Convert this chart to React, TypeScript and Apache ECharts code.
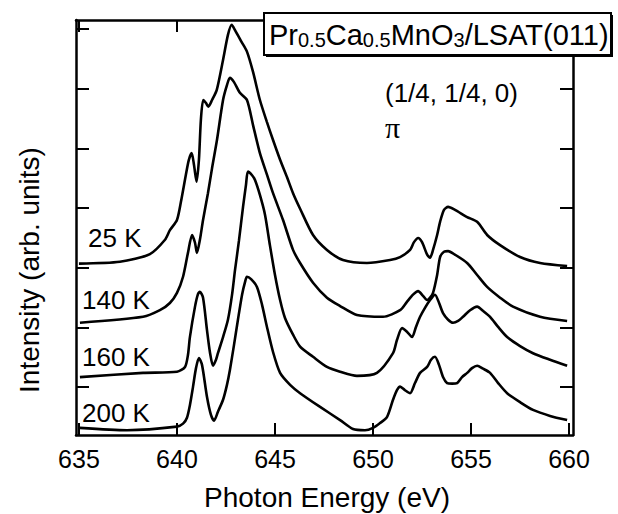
import React, { useEffect, useRef } from "react";
import * as echarts from "echarts";

const xTickValues = [635, 640, 645, 650, 655, 660];
const yTickValues = [1, 2, 3, 4, 5, 6, 7];

const energy25K = [635.0, 637.09, 638.62, 639.39, 639.64, 640.0, 640.2, 640.45, 640.6, 640.75, 640.87, 641.0, 641.12, 641.22, 641.34, 641.48, 641.6, 641.79, 642.03, 642.35, 642.6, 642.79, 642.96, 643.3, 643.57, 643.88, 644.23, 644.59, 644.9, 645.26, 645.61, 645.92, 646.28, 646.94, 647.65, 648.47, 649.69, 650.87, 651.38, 651.89, 652.09, 652.3, 652.5, 652.76, 652.91, 653.06, 653.27, 653.42, 653.62, 653.83, 654.18, 654.8, 655.31, 655.82, 656.48, 657.5, 658.52, 659.9];
const intensity25K = [3.07, 3.1, 3.23, 3.47, 3.63, 3.8, 4.1, 4.55, 4.8, 4.92, 4.72, 4.44, 4.81, 5.48, 5.81, 5.76, 5.7, 5.81, 5.98, 6.48, 6.9, 7.07, 6.98, 6.78, 6.62, 6.28, 5.81, 5.44, 5.14, 4.81, 4.52, 4.25, 3.99, 3.55, 3.3, 3.13, 3.08, 3.13, 3.18, 3.3, 3.43, 3.5, 3.43, 3.22, 3.17, 3.3, 3.55, 3.77, 3.97, 4.02, 3.97, 3.85, 3.77, 3.55, 3.38, 3.18, 3.08, 3.03];

const energy140K = [635.05, 638.27, 639.13, 639.64, 640.0, 640.31, 640.56, 640.77, 640.92, 641.02, 641.17, 641.33, 641.58, 641.79, 642.04, 642.35, 642.55, 642.7, 642.91, 643.21, 643.57, 643.88, 644.23, 644.59, 644.9, 645.41, 645.92, 646.28, 646.94, 647.65, 648.32, 649.18, 650.51, 651.38, 651.73, 652.04, 652.3, 652.55, 652.76, 652.91, 653.06, 653.27, 653.42, 653.62, 653.83, 654.18, 654.8, 655.31, 655.82, 656.48, 657.14, 658.52, 659.9];
const intensity140K = [2.08, 2.18, 2.29, 2.41, 2.58, 2.85, 3.25, 3.55, 3.42, 3.25, 3.47, 3.8, 4.25, 4.67, 5.14, 5.81, 6.06, 6.18, 6.11, 5.93, 5.81, 5.39, 4.92, 4.56, 4.25, 3.8, 3.3, 3.08, 2.75, 2.5, 2.36, 2.21, 2.18, 2.29, 2.43, 2.55, 2.61, 2.53, 2.46, 2.5, 2.58, 2.88, 3.18, 3.27, 3.28, 3.22, 3.08, 2.88, 2.68, 2.5, 2.35, 2.18, 2.11];

const energy160K = [635.05, 638.27, 640.0, 640.41, 640.56, 640.66, 640.92, 641.07, 641.17, 641.33, 641.53, 641.68, 641.84, 641.99, 642.09, 642.35, 642.6, 642.81, 642.96, 643.16, 643.37, 643.52, 643.62, 643.83, 643.98, 644.23, 644.49, 644.74, 645.0, 645.26, 645.51, 645.92, 646.28, 646.94, 647.65, 648.32, 649.18, 650.2, 651.02, 651.22, 651.48, 651.73, 651.99, 652.19, 652.4, 652.65, 652.91, 653.16, 653.37, 653.57, 653.83, 654.08, 654.34, 654.59, 654.95, 655.31, 655.61, 655.97, 656.38, 656.84, 657.5, 658.16, 659.03, 659.9];
const intensity160K = [1.17, 1.24, 1.26, 1.34, 1.54, 1.84, 2.35, 2.56, 2.6, 2.5, 1.96, 1.59, 1.36, 1.46, 1.57, 1.84, 2.13, 2.55, 2.96, 3.45, 4.02, 4.39, 4.61, 4.55, 4.47, 4.22, 3.89, 3.38, 2.88, 2.46, 2.16, 1.88, 1.68, 1.51, 1.34, 1.26, 1.19, 1.24, 1.57, 1.79, 1.99, 1.93, 1.84, 2.01, 2.18, 2.33, 2.46, 2.55, 2.41, 2.24, 2.13, 2.08, 2.11, 2.18, 2.29, 2.35, 2.28, 2.18, 2.01, 1.84, 1.69, 1.57, 1.46, 1.36];

const energy200K = [635.05, 637.45, 640.0, 640.31, 640.51, 640.66, 640.82, 640.97, 641.12, 641.28, 641.53, 641.73, 641.89, 642.09, 642.35, 642.55, 642.7, 642.91, 643.11, 643.32, 643.47, 643.57, 643.78, 644.08, 644.34, 644.59, 644.9, 645.26, 645.77, 646.28, 647.3, 648.32, 648.98, 649.59, 650.0, 650.36, 650.71, 651.02, 651.22, 651.38, 651.63, 651.89, 652.14, 652.4, 652.76, 652.96, 653.16, 653.37, 653.57, 653.78, 654.03, 654.29, 654.54, 654.8, 655.05, 655.31, 655.61, 655.97, 656.38, 656.84, 657.5, 658.16, 659.03, 659.9];
const intensity200K = [0.32, 0.28, 0.34, 0.39, 0.49, 0.7, 1.01, 1.32, 1.49, 1.37, 0.84, 0.54, 0.44, 0.59, 0.79, 1.04, 1.29, 1.71, 2.13, 2.55, 2.76, 2.85, 2.81, 2.68, 2.38, 2.01, 1.59, 1.24, 1.04, 0.9, 0.67, 0.45, 0.3, 0.28, 0.32, 0.4, 0.5, 0.79, 0.95, 1.01, 0.95, 0.9, 1.07, 1.24, 1.34, 1.46, 1.51, 1.37, 1.17, 1.07, 1.06, 1.07, 1.17, 1.24, 1.32, 1.36, 1.31, 1.24, 1.07, 0.9, 0.75, 0.62, 0.52, 0.45];

const seriesNames = ["25 K", "140 K", "160 K", "200 K"];

const zip = (e: number[], v: number[]) => e.map((x, i) => [x, v[i]]);

const FONT = "'Liberation Sans', Arial, Helvetica, sans-serif";
const BLACK = "#000";

export default function App() {
  const ref = useRef<HTMLDivElement>(null);

  useEffect(() => {
    document.body.style.margin = "0";
    if (!ref.current) return;
    const chart = echarts.init(ref.current, undefined, { renderer: "svg" });

    const axisLine = { show: true, onZero: false, lineStyle: { color: BLACK, width: 2.5 } };
    const tickLine = { color: BLACK, width: 2 };
    const xRange = { min: 634.85, max: 660.2 };
    const yRange = { min: 0.2, max: 7.15 };

    const datasets = [
      zip(energy25K, intensity25K),
      zip(energy140K, intensity140K),
      zip(energy160K, intensity160K),
      zip(energy200K, intensity200K),
    ];

    const label = (text: string, x: number, y: number, size = 26, align = "left") => ({
      type: "text",
      z: 102,
      x,
      y,
      style: { text, font: `${size}px ${FONT}`, fill: BLACK, verticalAlign: "middle", align },
    });

    const option: any = {
      animation: false,
      backgroundColor: "#fff",
      grid: { left: 76, right: 45, top: 20, bottom: 79, containLabel: false },
      xAxis: [
        {
          type: "value",
          position: "bottom",
          ...xRange,
          axisLine,
          axisTick: { show: true, inside: true, length: 12, customValues: xTickValues, lineStyle: tickLine },
          axisLabel: { show: true, customValues: xTickValues, color: BLACK, fontSize: 25, fontFamily: FONT, margin: 11, formatter: (v: number) => String(Math.round(v)) },
          splitLine: { show: false },
        },
        {
          type: "value",
          position: "top",
          ...xRange,
          axisLine,
          axisTick: { show: true, inside: true, length: 12, customValues: xTickValues, lineStyle: tickLine },
          axisLabel: { show: false },
          splitLine: { show: false },
        },
      ],
      yAxis: [
        {
          type: "value",
          position: "left",
          ...yRange,
          axisLine,
          axisTick: { show: true, inside: true, length: 13, customValues: yTickValues, lineStyle: tickLine },
          axisLabel: { show: false },
          splitLine: { show: false },
        },
        {
          type: "value",
          position: "right",
          ...yRange,
          axisLine,
          axisTick: { show: true, inside: true, length: 13, customValues: yTickValues, lineStyle: tickLine },
          axisLabel: { show: false },
          splitLine: { show: false },
        },
      ],
      series: datasets.map((d, i) => ({
        name: seriesNames[i],
        type: "line",
        xAxisIndex: 0,
        yAxisIndex: 0,
        data: d,
        showSymbol: false,
        smooth: 0.25,
        lineStyle: { color: BLACK, width: 2.6 },
        z: 3,
      })),
      graphic: [
        { type: "rect", z: 100, shape: { x: 266, y: 15, width: 347, height: 42 }, style: { fill: BLACK } },
        { type: "rect", z: 101, shape: { x: 264, y: 13, width: 347, height: 42 }, style: { fill: "#fff", stroke: BLACK, lineWidth: 2 } },
        {
          type: "text",
          z: 102,
          x: 269,
          y: 35,
          style: {
            text: "{m|Pr}{s|0.5}{m|Ca}{s|0.5}{m|MnO}{s|3}{m|/LSAT(011)}",
            verticalAlign: "middle",
            align: "left",
            fill: BLACK,
            rich: {
              m: { fontSize: 29, lineHeight: 29, verticalAlign: "top", fontFamily: FONT, fill: BLACK },
              s: { fontSize: 20, lineHeight: 20, padding: [13, 0, 0, 0], verticalAlign: "bottom", fontFamily: FONT, fill: BLACK },
            },
          },
        },
        label("(1/4, 1/4, 0)", 385, 93, 26),
        { type: "text", z: 102, x: 385, y: 127, style: { text: "π", font: `30px 'Liberation Serif', 'Times New Roman', serif`, fill: BLACK, verticalAlign: "middle", align: "left" } },
        label(seriesNames[0], 88, 238, 26),
        label(seriesNames[1], 82, 300, 26),
        label(seriesNames[2], 82, 357, 26),
        label(seriesNames[3], 82, 413, 26),
        label("Photon Energy (eV)", 327, 497, 28, "center"),
        { type: "text", z: 102, x: 29, y: 270, rotation: Math.PI / 2, style: { text: "Intensity (arb. units)", font: `28px ${FONT}`, fill: BLACK, verticalAlign: "middle", align: "center" } },
      ],
    };

    chart.setOption(option);
    return () => chart.dispose();
  }, []);

  return <div ref={ref} style={{ position: "absolute", left: 0, top: 0, width: 618, height: 514 }} />;
}
